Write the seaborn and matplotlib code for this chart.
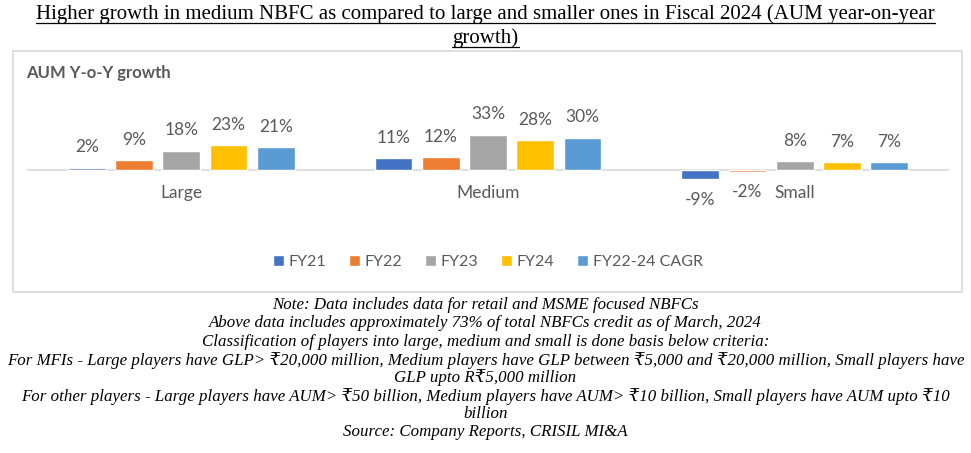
import matplotlib
matplotlib.use("Agg")
import matplotlib.pyplot as plt
import seaborn as sns
import pandas as pd
from matplotlib.patches import Rectangle
from matplotlib.lines import Line2D

categories = ["Large", "Medium", "Small"]
series = ["FY21", "FY22", "FY23", "FY24", "FY22-24 CAGR"]
fy21 = [2, 11, -9]
fy22 = [9, 12, -2]
fy23 = [18, 33, 8]
fy24 = [23, 28, 7]
cagr = [21, 30, 7]
colors = ["#4472C4", "#ED7D31", "#A5A5A5", "#FFC000", "#5B9BD5"]

title = "Higher growth in medium NBFC as compared to large and smaller ones in Fiscal 2024 (AUM year-on-year\ngrowth)"
chart_title = "AUM Y-o-Y growth"
notes = [
    "Note: Data includes data for retail and MSME focused NBFCs",
    "Above data includes approximately 73% of total NBFCs credit as of March, 2024",
    "Classification of players into large, medium and small is done basis below criteria:",
    "For MFIs - Large players have GLP> \u20b920,000 million, Medium players have GLP between \u20b95,000 and \u20b920,000 million, Small players have",
    "GLP upto R\u20b95,000 million",
    "For other players - Large players have AUM> \u20b950 billion, Medium players have AUM> \u20b910 billion, Small players have AUM upto \u20b910",
    "billion",
    "Source: Company Reports, CRISIL MI&A",
]

rows = []
for s, vals in zip(series, [fy21, fy22, fy23, fy24, cagr]):
    for c, v in zip(categories, vals):
        rows.append({"cat": c, "series": s, "value": v})
df = pd.DataFrame(rows)

sns.set_theme(style="white")
plt.rcParams["font.family"] = ["Lato", "DejaVu Sans"]

W, H = 971, 453
fig = plt.figure(figsize=(W / 100, H / 100), dpi=100)

# outer frame
fig.patches.append(Rectangle((13 / W, 1 - 292 / H), (962 - 13) / W, (292 - 51) / H,
                             transform=fig.transFigure, fill=False, edgecolor="#D9D9D9", linewidth=1.2))

ax = fig.add_axes([28 / W, 1 - 228 / H, (948 - 28) / W, (228 - 85) / H])
sns.barplot(data=df, x="cat", y="value", hue="series", order=categories, hue_order=series,
            palette=colors, width=0.77, gap=0.2, ax=ax, legend=True, saturation=1)
ax.set_ylim(-55, 80)
ax.set_xlim(-0.5, 2.5)
for sp in ["top", "right", "left"]:
    ax.spines[sp].set_visible(False)
ax.spines["bottom"].set_position(("data", 0))
ax.spines["bottom"].set_color("#D9D9D9")
ax.spines["bottom"].set_linewidth(1.2)
ax.spines["bottom"].set_zorder(0)
ax.set_yticks([])
ax.set_xlabel("")
ax.set_ylabel("")
ax.tick_params(axis="x", length=0, pad=11, labelsize=12.5, labelcolor="#595959")
for cont in ax.containers:
    ax.bar_label(cont, fmt="%d%%", padding=9, fontsize=12.5, color="#595959")

handles, labels = ax.get_legend_handles_labels()
ax.legend(handles, labels, loc="center", bbox_to_anchor=(0.5, 1 - (262 - 85) / (228 - 85)),
          ncol=5, frameon=False, fontsize=11.5, handlelength=0.7, handleheight=0.7,
          handletextpad=0.3, columnspacing=1.4, labelcolor="#595959")

fig.text(26 / W, 1 - 73 / H, chart_title, fontsize=12, fontweight="bold", color="#595959",
         va="center", ha="left")

serif = ["Liberation Serif", "DejaVu Serif", "DejaVu Sans"]
t1 = fig.text(0.5, 1 - 14 / H, title.split("\n")[0], family=serif, fontsize=15,
              ha="center", va="center", color="black")
t2 = fig.text(0.5, 1 - 38 / H, title.split("\n")[1], family=serif, fontsize=15,
              ha="center", va="center", color="black")

ys = [305, 323, 342, 361, 378, 397, 414, 432]
for y, line in zip(ys, notes):
    fig.text(0.5, 1 - y / H, line, family=serif, style="italic", fontsize=12.2,
             ha="center", va="center", color="black")

fig.canvas.draw()
r = fig.canvas.get_renderer()
for t in (t1, t2):
    bb = t.get_window_extent(renderer=r)
    yline = (bb.y0 + 1) / H
    fig.lines.append(Line2D([bb.x0 / W, bb.x1 / W], [yline, yline], transform=fig.transFigure,
                            color="black", linewidth=0.9))

fig.savefig("out.png", dpi=100)
